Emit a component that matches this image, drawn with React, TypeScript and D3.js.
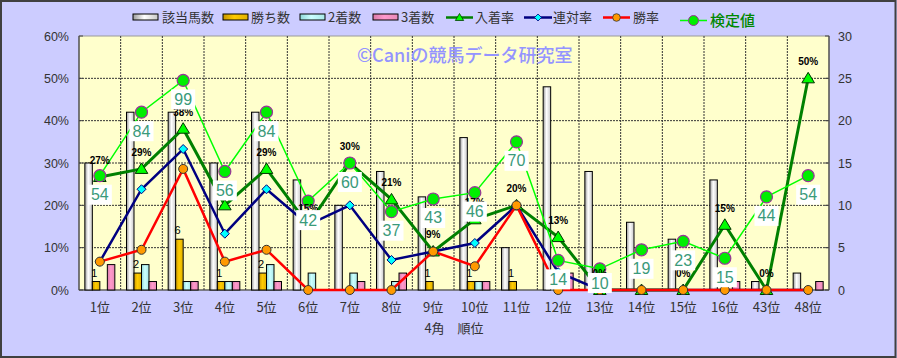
import React from "react";
import * as d3 from "d3";

const categories = ["1位","2位","3位","4位","5位","6位","7位","8位","9位","10位","11位","12位","13位","14位","15位","16位","43位","48位"];
const horseCount = [15,21,21,15,21,13,10,14,11,18,5,24,14,8,6,13,1,2];
const winCount = [1,2,6,1,2,0,0,0,1,1,1,0,0,0,0,0,0,0];
const secondCount = [0,3,1,1,3,2,2,1,0,1,0,1,0,0,0,0,0,0];
const thirdCount = [3,1,1,1,1,0,1,2,0,1,0,2,0,0,0,1,0,1];
const placeRate = [26.7,28.6,38.1,20.0,28.6,15.4,30.0,21.4,9.1,16.7,20.0,12.5,0,0,0,15.4,0,50.0];
const rentaiRate = [6.7,23.8,33.3,13.3,23.8,15.4,20.0,7.1,9.1,11.1,20.0,4.2,0,0,0,0,0,0];
const winRate = [6.7,9.5,28.6,6.7,9.5,0,0,0,9.1,5.6,20.0,0,0,0,0,0,0,0];
const kentei = [54,84,99,56,84,42,60,37,43,46,70,14,10,19,23,15,44,54];
const leftTicks = [0,10,20,30,40,50,60];
const rightTicks = [0,5,10,15,20,25,30];

const W = 897, H = 358;
const PL = 79, PR = 829, PT = 36, PB = 290;
const FONT = "'Liberation Sans', Arial, 'Noto Sans CJK JP', sans-serif";
const JFONT = "'Noto Sans CJK JP', 'Liberation Sans', sans-serif";

export default function App() {
  const x = d3.scaleBand<string>().domain(categories).range([PL, PR]).paddingInner(0).paddingOuter(0);
  const bw = x.bandwidth();
  const sub = d3.scaleBand<string>().domain(["n","w","s","t"]).range([0, 30]);
  const yL = d3.scaleLinear().domain([0, 60]).range([PB, PT]);
  const yR = d3.scaleLinear().domain([0, 30]).range([PB, PT]);
  const cx = (i: number) => (x(categories[i]) as number) + bw / 2;
  const gx = (i: number) => (x(categories[i]) as number) + (bw - 30) / 2;

  const lineL = (arr: number[]) =>
    d3.line<number>().x((_, i) => cx(i)).y((v) => yL(v))(arr) as string;
  const kenteiY = (v: number) => yR(v / 4);
  const kenteiLine = d3.line<number>().x((_, i) => cx(i)).y((v) => kenteiY(v))(kentei) as string;

  const barSeries = [
    { key: "n", data: horseCount, fill: "url(#gWhite)" },
    { key: "w", data: winCount, fill: "url(#gGold)" },
    { key: "s", data: secondCount, fill: "url(#gCyan)" },
    { key: "t", data: thirdCount, fill: "url(#gPink)" },
  ];

  const tri = (px: number, py: number, s: number) =>
    `M${px},${py - s}L${px + s * 1.05},${py + s * 0.75}L${px - s * 1.05},${py + s * 0.75}Z`;
  const dia = (px: number, py: number, s: number) =>
    `M${px},${py - s}L${px + s},${py}L${px},${py + s}L${px - s},${py}Z`;

  const legendBars = [
    { x: 133, label: "該当馬数", fill: "url(#gWhite)", tx: 162 },
    { x: 223, label: "勝ち数", fill: "url(#gGold)", tx: 251 },
    { x: 300, label: "2着数", fill: "url(#gCyan)", tx: 328 },
    { x: 373, label: "3着数", fill: "url(#gPink)", tx: 401 },
  ];

  return (
    <svg width={W} height={H} style={{ position: "fixed", left: 0, top: 0 }} xmlns="http://www.w3.org/2000/svg">
      <defs>
        <linearGradient id="gWhite" x1="0" x2="1" y1="0" y2="0">
          <stop offset="0" stopColor="#9a9a9a" />
          <stop offset="0.45" stopColor="#ffffff" />
          <stop offset="1" stopColor="#c8c8c8" />
        </linearGradient>
        <linearGradient id="gGold" x1="0" x2="1" y1="0" y2="0">
          <stop offset="0" stopColor="#c89600" />
          <stop offset="0.45" stopColor="#ffcc00" />
          <stop offset="1" stopColor="#e0b000" />
        </linearGradient>
        <linearGradient id="gCyan" x1="0" x2="1" y1="0" y2="0">
          <stop offset="0" stopColor="#8fd8d8" />
          <stop offset="0.45" stopColor="#ccffff" />
          <stop offset="1" stopColor="#a8e8e8" />
        </linearGradient>
        <linearGradient id="gPink" x1="0" x2="1" y1="0" y2="0">
          <stop offset="0" stopColor="#d87aa8" />
          <stop offset="0.45" stopColor="#ff99cc" />
          <stop offset="1" stopColor="#e88ab8" />
        </linearGradient>
      </defs>
      <rect x={0} y={0} width={W} height={H} fill="#ccccff" />
      <rect x={1} y={1} width={W - 2.5} height={H - 2} fill="none" stroke="#404040" strokeWidth={2} />

      {/* legend */}
      {legendBars.map((l) => (
        <g key={l.label}>
          <rect x={l.x} y={14} width={25} height={6} fill={l.fill} stroke="#000" strokeWidth={1} />
          <text x={l.tx} y={22} fontSize={13} fontFamily={JFONT} fill="#333">{l.label}</text>
        </g>
      ))}
      <line x1={446} x2={473} y1={17.5} y2={17.5} stroke="#008000" strokeWidth={2.5} />
      <path d={tri(459.5, 17.5, 4)} fill="#00ff00" stroke="#004000" strokeWidth={0.8} />
      <text x={475} y={22} fontSize={13} fontFamily={JFONT} fill="#333">入着率</text>
      <line x1={524} x2={552} y1={17.5} y2={17.5} stroke="#000080" strokeWidth={2.5} />
      <path d={dia(538, 17.5, 3.5)} fill="#00ffff" stroke="#000080" strokeWidth={0.8} />
      <text x={553} y={22} fontSize={13} fontFamily={JFONT} fill="#333">連対率</text>
      <line x1={603} x2={630} y1={17.5} y2={17.5} stroke="#ff0000" strokeWidth={2.5} />
      <circle cx={616.5} cy={17.5} r={3.8} fill="#ff9900" stroke="#333" strokeWidth={0.8} />
      <text x={633} y={22} fontSize={13} fontFamily={JFONT} fill="#333">勝率</text>
      <line x1={680} x2={707} y1={20.5} y2={20.5} stroke="#00ff00" strokeWidth={1.5} />
      <circle cx={693.5} cy={20.5} r={5} fill="#00ee00" stroke="#993399" strokeWidth={1} />
      <text x={710} y={26} fontSize={15} fontFamily={JFONT} fill="#008800" fontWeight={500}>検定値</text>

      {/* plot area */}
      <rect x={PL} y={PT} width={PR - PL} height={PB - PT} fill="#ffffcc" stroke="#999" strokeWidth={1} />
      {leftTicks.slice(1, -1).map((t) => (
        <line key={"h" + t} x1={PL} x2={PR} y1={yL(t)} y2={yL(t)} stroke="#333" strokeWidth={1} strokeDasharray="2,1" />
      ))}
      {categories.slice(1).map((c) => (
        <line key={"v" + c} x1={x(c)} x2={x(c)} y1={PT} y2={PB} stroke="#333" strokeWidth={1} strokeDasharray="2,1" />
      ))}
      <text x={357} y={62} fontSize={18} fontFamily={JFONT} fontWeight={500} fill="#9494ff">©Caniの競馬データ研究室</text>

      {/* axes */}
      <line x1={PL} x2={PL} y1={PT} y2={PB} stroke="#444" strokeWidth={1.2} />
      <line x1={PR} x2={PR} y1={PT} y2={PB} stroke="#444" strokeWidth={1.2} />
      <line x1={PL} x2={PR} y1={PB} y2={PB} stroke="#444" strokeWidth={1.2} />
      {leftTicks.map((t) => (
        <g key={"lt" + t}>
          <line x1={PL} x2={PL + 4} y1={yL(t)} y2={yL(t)} stroke="#444" />
          <text x={69} y={yL(t) + 4.5} fontSize={12.5} fontFamily={FONT} fill="#333" textAnchor="end">{t + "%"}</text>
        </g>
      ))}
      {rightTicks.map((t) => (
        <g key={"rt" + t}>
          <line x1={PR - 4} x2={PR} y1={yR(t)} y2={yR(t)} stroke="#444" />
          <text x={838} y={yR(t) + 4.5} fontSize={12.5} fontFamily={FONT} fill="#333">{t}</text>
        </g>
      ))}
      {categories.map((c, i) => (
        <text key={"xl" + c} x={cx(i)} y={312} fontSize={13} fontFamily={JFONT} fill="#333" textAnchor="middle">{c}</text>
      ))}
      <text x={454} y={333} fontSize={13} fontFamily={JFONT} fill="#333" textAnchor="middle">4角　順位</text>

      {/* bars */}
      {barSeries.map((s) =>
        s.data.map((v, i) =>
          v > 0 ? (
            <rect key={s.key + i} x={gx(i) + (sub(s.key) as number)} y={yR(v)} width={sub.bandwidth()} height={PB - yR(v)}
              fill={s.fill} stroke="#000" strokeWidth={1} />
          ) : null
        )
      )}
      {winCount.map((v, i) =>
        v > 0 ? (
          <text key={"wl" + i} x={gx(i) + (sub("w") as number) + 2} y={yR(v) - 5} fontSize={11} fontFamily={FONT} fill="#000" textAnchor="middle">{v}</text>
        ) : null
      )}

      {/* lines */}
      <path d={lineL(placeRate)} fill="none" stroke="#008000" strokeWidth={3} />
      {placeRate.map((v, i) => (
        <path key={"pm" + i} d={tri(cx(i), yL(v), 6)} fill="#00ff00" stroke="#003300" strokeWidth={1} />
      ))}
      <path d={lineL(rentaiRate)} fill="none" stroke="#000080" strokeWidth={2.5} />
      {rentaiRate.map((v, i) => (
        <path key={"rm" + i} d={dia(cx(i), yL(v), 4.5)} fill="#00ffff" stroke="#000080" strokeWidth={1} />
      ))}
      <path d={lineL(winRate)} fill="none" stroke="#ff0000" strokeWidth={2.5} />
      {winRate.map((v, i) => (
        <circle key={"wm" + i} cx={cx(i)} cy={yL(v)} r={4.5} fill="#ff9900" stroke="#333" strokeWidth={1} />
      ))}
      <path d={kenteiLine} fill="none" stroke="#00ff00" strokeWidth={1.5} />
      {kentei.map((v, i) => (
        <circle key={"km" + i} cx={cx(i)} cy={kenteiY(v)} r={6} fill="#00ee00" stroke="#993399" strokeWidth={1.2} />
      ))}
      {placeRate.map((v, i) => (
        <text key={"pl" + i} x={cx(i)} y={yL(v) - 13} fontSize={10} fontWeight="bold" fontFamily={FONT} fill="#000" textAnchor="middle">{Math.round(v) + "%"}</text>
      ))}
      {kentei.map((v, i) => {
        const ly = Math.min(kenteiY(v) + 19, 283);
        return (
          <g key={"kl" + i}>
            <rect x={cx(i) - 12} y={ly - 10} width={24} height={20} fill="#ffffff" />
            <text x={cx(i)} y={ly + 5.5} fontSize={16} fontFamily={FONT} fill="#3a9a7a" textAnchor="middle">{v}</text>
          </g>
        );
      })}
    </svg>
  );
}
